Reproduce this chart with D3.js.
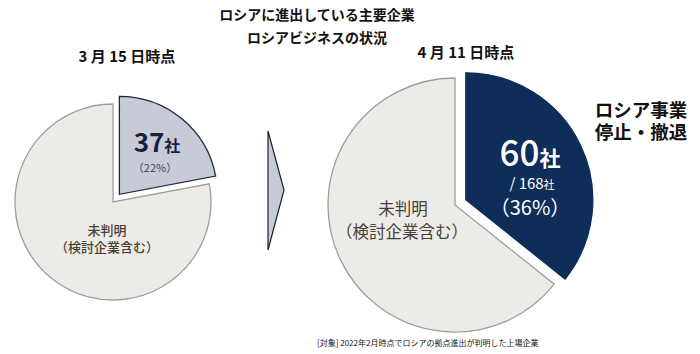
<!DOCTYPE html>
<html>
<head>
<meta charset="utf-8">
<script src="https://cdn.jsdelivr.net/npm/d3@7.9.0/dist/d3.min.js"></script>
<style>
  body { margin: 0; background: #fff; }
  svg { display: block; font-family: "Noto Sans CJK JP", "Noto Sans", sans-serif; }
</style>
</head>
<body>
<svg id="chart" width="700" height="354"></svg>
<script>
// slices: [withdrawn, unknown]
const categories = ['ロシア事業停止・撤退', '未判明（検討企業含む）'];
const marchCounts = [37, 131];
const aprilCounts = [60, 108];
const total = 168;
const titleLines = ['ロシアに進出している主要企業', 'ロシアビジネスの状況'];
const dateLabels = ['3 月 15 日時点', '4 月 11 日時点'];
const note = '[対象] 2022年2月時点でロシアの拠点進出が判明した上場企業';

const svg = d3.select('#chart');
const pie = d3.pie().sort(null);

// title
svg.append('text')
  .attr('x', 317).attr('y', 20)
  .attr('text-anchor', 'middle')
  .attr('font-size', 14).attr('font-weight', 700).attr('fill', '#111')
  .text(titleLines[0]);
svg.append('text')
  .attr('x', 317).attr('y', 43)
  .attr('text-anchor', 'middle')
  .attr('font-size', 14).attr('font-weight', 700).attr('fill', '#111')
  .text(titleLines[1]);

function drawPie(counts, cx, cy, r, explode, colors) {
  const g = svg.append('g').attr('transform', `translate(${cx},${cy})`);
  const arc = d3.arc().innerRadius(0).outerRadius(r);
  const arcs = pie(counts);
  g.selectAll('path')
    .data(arcs)
    .enter()
    .append('path')
    .attr('transform', (d, i) => {
      if (i !== 0) return null;
      const a = (d.startAngle + d.endAngle) / 2;
      return `translate(${Math.sin(a) * explode},${-Math.cos(a) * explode})`;
    })
    .attr('d', arc)
    .attr('fill', (d, i) => colors[i].fill)
    .attr('stroke', (d, i) => colors[i].stroke)
    .attr('stroke-width', 1.3);
  return g;
}

// left pie (3/15)
drawPie(marchCounts, 113, 202, 98, 10, [
  { fill: '#c7cbd5', stroke: '#1b2748' },
  { fill: '#ecebe8', stroke: '#a29f99' },
]);
// right pie (4/11)
drawPie(aprilCounts, 455, 205, 127, 12, [
  { fill: '#0e2d58', stroke: '#0e2d58' },
  { fill: '#ecebe8', stroke: '#a29f99' },
]);

// arrow between pies
svg.append('path')
  .attr('d', d3.line()([[268, 131], [284, 190], [268, 250]]) + 'Z')
  .attr('fill', '#c7cbd5')
  .attr('stroke', '#1b2030')
  .attr('stroke-width', 1.2);

// date labels
svg.append('text')
  .attr('x', 127).attr('y', 62)
  .attr('text-anchor', 'middle')
  .attr('font-size', 15).attr('font-weight', 700).attr('fill', '#111')
  .text(dateLabels[0]);
svg.append('text')
  .attr('x', 466).attr('y', 58)
  .attr('text-anchor', 'middle')
  .attr('font-size', 15).attr('font-weight', 700).attr('fill', '#111')
  .text(dateLabels[1]);

const pct = v => Math.round(v / total * 100);

// left labels
const t37 = svg.append('text')
  .attr('x', 157).attr('y', 152)
  .attr('text-anchor', 'middle')
  .attr('fill', '#17223f').attr('font-weight', 700);
t37.append('tspan').attr('font-size', 26).text(marchCounts[0]);
t37.append('tspan').attr('font-size', 16).text('社');
svg.append('text')
  .attr('x', 155).attr('y', 172)
  .attr('text-anchor', 'middle')
  .attr('font-size', 11).attr('fill', '#3c4560')
  .text(`（${pct(marchCounts[0])}%）`);

svg.append('text')
  .attr('x', 107).attr('y', 235)
  .attr('text-anchor', 'middle')
  .attr('font-size', 13).attr('font-weight', 500).attr('fill', '#4b3f33')
  .text('未判明');
svg.append('text')
  .attr('x', 107).attr('y', 252)
  .attr('text-anchor', 'middle')
  .attr('font-size', 13).attr('font-weight', 500).attr('fill', '#4b3f33')
  .text('（検討企業含む）');

// right labels
const t60 = svg.append('text')
  .attr('x', 530).attr('y', 166)
  .attr('text-anchor', 'middle')
  .attr('fill', '#fff').attr('font-weight', 500);
t60.append('tspan').attr('font-size', 35).text(aprilCounts[0]);
t60.append('tspan').attr('font-size', 21).attr('font-weight', 700).text('社');
const t168 = svg.append('text')
  .attr('x', 532).attr('y', 189)
  .attr('text-anchor', 'middle')
  .attr('fill', '#fff');
t168.append('tspan').attr('font-size', 15).text(`/ ${total}`);
t168.append('tspan').attr('font-size', 11).text('社');
svg.append('text')
  .attr('x', 530).attr('y', 215)
  .attr('text-anchor', 'middle')
  .attr('font-size', 20).attr('fill', '#fff')
  .text(`（${pct(aprilCounts[0])}%）`);

svg.append('text')
  .attr('x', 403).attr('y', 215)
  .attr('text-anchor', 'middle')
  .attr('font-size', 16.5).attr('fill', '#4b3f33')
  .text('未判明');
svg.append('text')
  .attr('x', 402).attr('y', 238)
  .attr('text-anchor', 'middle')
  .attr('font-size', 16.5).attr('fill', '#4b3f33')
  .text('（検討企業含む）');

// category label for withdrawn slice
svg.append('text')
  .attr('x', 641).attr('y', 117)
  .attr('text-anchor', 'middle')
  .attr('font-size', 18.5).attr('font-weight', 700).attr('fill', '#111')
  .text('ロシア事業');
svg.append('text')
  .attr('x', 641).attr('y', 139)
  .attr('text-anchor', 'middle')
  .attr('font-size', 18.5).attr('font-weight', 700).attr('fill', '#111')
  .text('停止・撤退');

// footnote
svg.append('text')
  .attr('x', 317).attr('y', 346)
  .attr('font-size', 8).attr('fill', '#111')
  .text(note);
</script>
</body>
</html>
